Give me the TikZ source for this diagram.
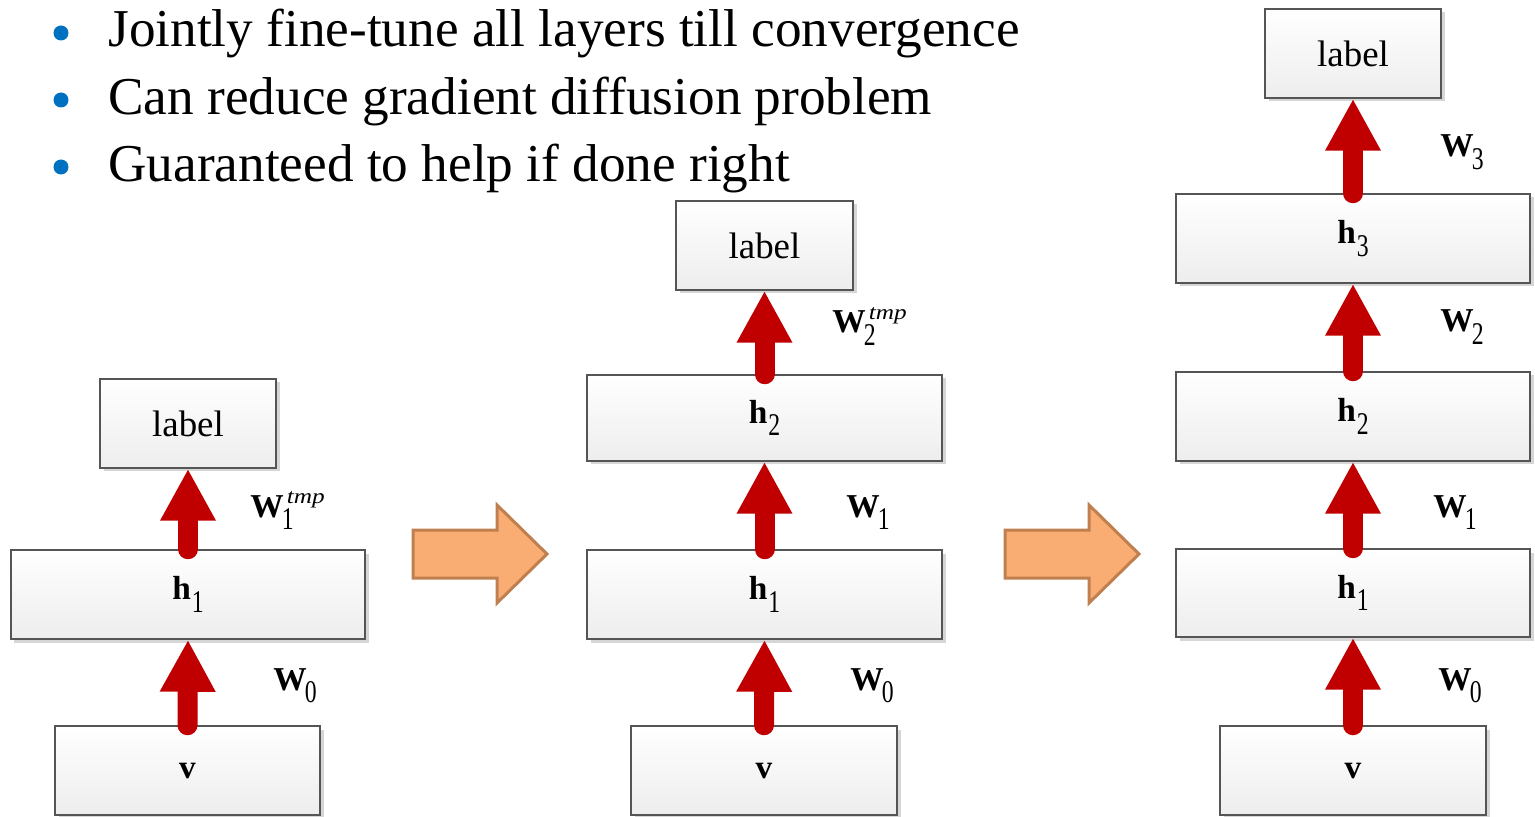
\documentclass[tikz,border=0pt]{standalone}
\usepackage{fontspec}
\usepackage{graphicx}
\setmainfont{Liberation Serif}
\usetikzlibrary{arrows.meta,shadows}

\definecolor{bulletblue}{HTML}{0070C0}
\definecolor{arrowred}{HTML}{C00000}
\definecolor{stepfill}{HTML}{F9AD72}
\definecolor{stepdraw}{HTML}{BF7F4F}
\definecolor{boxedge}{HTML}{555555}

% narrow, lowered index digit
\newcommand\idx[1]{\raisebox{-7pt}{\scalebox{0.75}[1]{\fontsize{18}{18}\selectfont\mdseries #1}}}
% index on a layer name
\newcommand\lsub[1]{\kern0.6pt\idx{#1}}
% index (and optional upper tag) on a weight name
\newcommand\wsub[1]{\kern-1pt\idx{#1}}
\newcommand\wsubsup[2]{\kern-1pt\rlap{\idx{#1}}\kern2.8pt%
  \raisebox{7.4pt}{\scalebox{1.2}[1]{\fontsize{12}{12}\selectfont\mdseries\itshape #2}}}

% a shaded layer box given by its corners (x1,y1) and (x2,y2)
\newcommand\layerbox[6]{%
  \node[layer, minimum width={(#4-#2)*0.02cm}, minimum height={(#5-#3)*0.02cm}]
    (#1) at ({(#2+#4)/2},{(#3+#5)/2}) {#6};}

\begin{document}
\begin{tikzpicture}[x=0.02cm, y=-0.02cm,
  layer/.style={draw=boxedge, line width=0.03cm, top color=white, bottom color=black!7,
    drop shadow={shadow xshift=0.07cm, shadow yshift=-0.07cm, opacity=0.16, fill=black},
    inner sep=0pt, font=\fontsize{19}{23}\selectfont},
  tagtext/.style={font=\fontsize{21}{25}\selectfont},
  wlabel/.style={anchor=base west, inner sep=0pt, font=\fontsize{19}{23}\selectfont\bfseries},
  up/.style={draw=arrowred, line width=0.4cm, line cap=round,
    -{Triangle[width=1.04cm, length=1.04cm, fill=arrowred]}},
  bullettext/.style={anchor=base west, inner sep=0pt, font=\fontsize{30.3}{36}\selectfont},
  bigarrow/.style={fill=stepfill, draw=stepdraw, line width=0.06cm, line join=miter}]

\useasboundingbox (0,0) rectangle (1535,817);

% bullet list
\fill[bulletblue] (61,33) circle[radius=0.15cm];
\fill[bulletblue] (61,100) circle[radius=0.15cm];
\fill[bulletblue] (61,167) circle[radius=0.15cm];
\node[bullettext] (b1) at (108,47) {Jointly fine-tune all layers till convergence};
\node[bullettext] (b2) at (108,115) {Can reduce gradient diffusion problem};
\node[bullettext] (b3) at (108,182) {Guaranteed to help if done right};

% first stack
\layerbox{lab1}{100}{379}{276}{468}{\fontsize{21}{25}\selectfont label}
\layerbox{h11}{11}{550}{365}{639}{\textbf{h}\lsub{1}}
\layerbox{v1}{55}{726}{320}{815}{\textbf{v}}
\draw[up] (v1.north) -- (h11.south);
\draw[up] (h11.north) -- (lab1.south);
\node[wlabel] (w10) at (273,690) {W\wsub{0}};
\node[wlabel] (w11) at (250,517) {W\wsubsup{1}{tmp}};

% second stack
\layerbox{lab2}{676}{201}{853}{290}{\fontsize{21}{25}\selectfont label}
\layerbox{h22}{587}{375}{942}{461}{\textbf{h}\lsub{2}}
\layerbox{h21}{587}{550}{942}{639}{\textbf{h}\lsub{1}}
\layerbox{v2}{631}{726}{897}{815}{\textbf{v}}
\draw[up] (v2.north) -- (h21.south);
\draw[up] (h21.north) -- (h22.south);
\draw[up] (h22.north) -- (lab2.south);
\node[wlabel] (w20) at (850,690) {W\wsub{0}};
\node[wlabel] (w21) at (846,517) {W\wsub{1}};
\node[wlabel] (w22) at (832,333) {W\wsubsup{2}{tmp}};

% third stack
\layerbox{lab3}{1265}{9}{1441}{98}{\fontsize{21}{25}\selectfont label}
\layerbox{h33}{1176}{194}{1530}{283}{\textbf{h}\lsub{3}}
\layerbox{h32}{1176}{372}{1530}{461}{\textbf{h}\lsub{2}}
\layerbox{h31}{1176}{549}{1530}{637}{\textbf{h}\lsub{1}}
\layerbox{v3}{1220}{726}{1486}{815}{\textbf{v}}
\draw[up] (v3.north) -- (h31.south);
\draw[up] (h31.north) -- (h32.south);
\draw[up] (h32.north) -- (h33.south);
\draw[up] (h33.north) -- (lab3.south);
\node[wlabel] (w30) at (1438,690) {W\wsub{0}};
\node[wlabel] (w31) at (1433,517) {W\wsub{1}};
\node[wlabel] (w32) at (1440,332) {W\wsub{2}};
\node[wlabel] (w33) at (1440,157) {W\wsub{3}};

% block arrows between the stacks
\draw[bigarrow] (413,530) -- (497,530) -- (497,505) -- (547,554) -- (497,603)
  -- (497,578) -- (413,578) -- cycle;
\draw[bigarrow] (1005,530) -- (1089,530) -- (1089,505) -- (1139,554) -- (1089,603)
  -- (1089,578) -- (1005,578) -- cycle;
\end{tikzpicture}
\end{document}
